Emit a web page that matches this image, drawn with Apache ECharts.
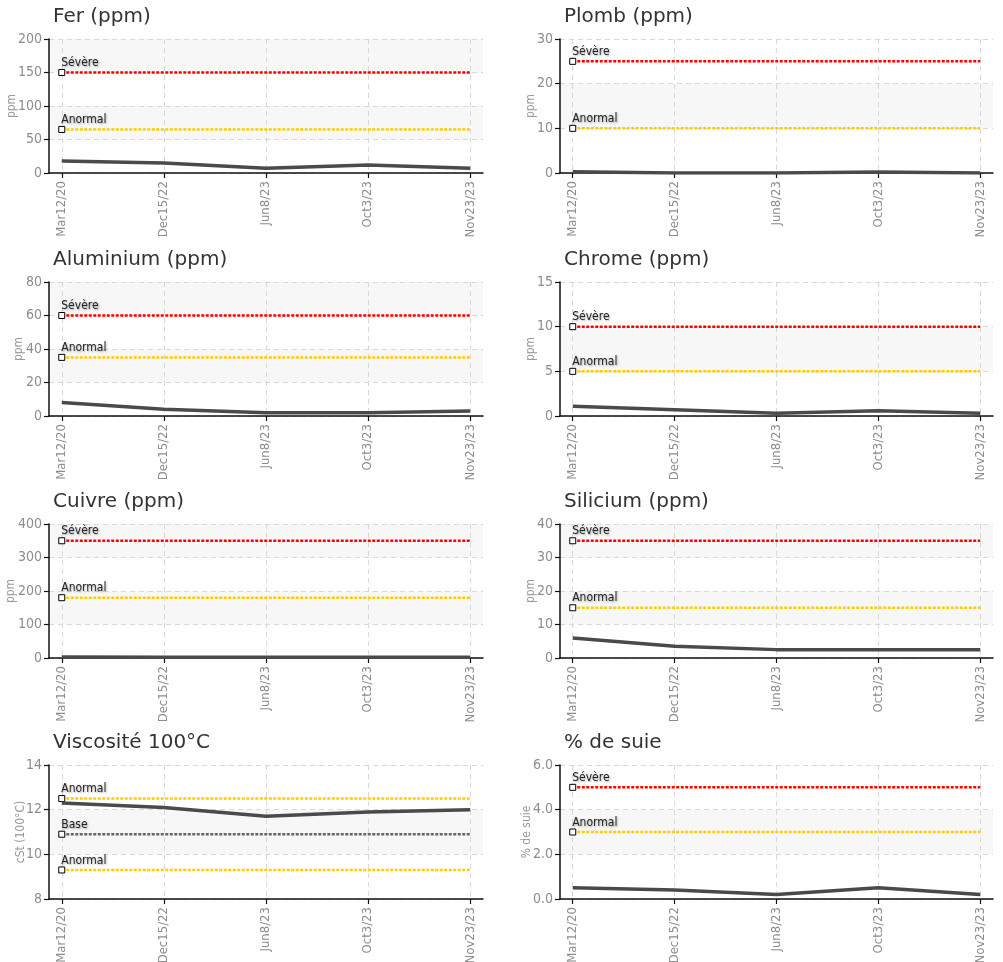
<!DOCTYPE html>
<html><head><meta charset="utf-8">
<script src="https://cdn.jsdelivr.net/npm/echarts@6/dist/echarts.min.js"></script>
<style>html,body{margin:0;padding:0;background:#fff}#c{width:1003px;height:962px}</style>
</head><body><div id="c"></div>
<script>
// ---------- DATA ----------
const categories = ['Mar12/20', 'Dec15/22', 'Jun8/23', 'Oct3/23', 'Nov23/23'];

const ferValues       = [18, 15, 7, 12, 7];
const plombValues     = [0.3, 0, 0, 0.2, 0];
const aluminiumValues = [8, 4, 2, 2, 3];
const chromeValues    = [1.1, 0.7, 0.3, 0.6, 0.3];
const cuivreValues    = [3, 2, 2, 2, 2];
const siliciumValues  = [6, 3.5, 2.5, 2.5, 2.5];
const viscositeValues = [12.3, 12.1, 11.7, 11.9, 12.0];
const suieValues      = [0.5, 0.4, 0.2, 0.5, 0.2];

const ferLimits       = [150, 65];
const plombLimits     = [25, 10];
const aluminiumLimits = [60, 35];
const chromeLimits    = [10, 5];
const cuivreLimits    = [350, 180];
const siliciumLimits  = [35, 15];
const viscositeLimits = [12.5, 10.9, 9.3];
const suieLimits      = [5, 3];

const limitNames          = ['Sévère', 'Anormal'];
const viscositeLimitNames = ['Anormal', 'Base', 'Anormal'];

// y-axis ticks: [min, max, step]
const ferTicks       = [0, 200, 50];
const plombTicks     = [0, 30, 10];
const aluminiumTicks = [0, 80, 20];
const chromeTicks    = [0, 15, 5];
const cuivreTicks    = [0, 400, 100];
const siliciumTicks  = [0, 40, 10];
const viscositeTicks = [8, 14, 2];
const suieTicks      = [0, 6, 2];

// ---------- PANELS ----------
const panels = [
  {title: 'Fer (ppm)',       yName: 'ppm', values: ferValues,       limits: ferLimits,       names: limitNames, ticks: ferTicks,       dec: 0},
  {title: 'Plomb (ppm)',     yName: 'ppm', values: plombValues,     limits: plombLimits,     names: limitNames, ticks: plombTicks,     dec: 0},
  {title: 'Aluminium (ppm)', yName: 'ppm', values: aluminiumValues, limits: aluminiumLimits, names: limitNames, ticks: aluminiumTicks, dec: 0},
  {title: 'Chrome (ppm)',    yName: 'ppm', values: chromeValues,    limits: chromeLimits,    names: limitNames, ticks: chromeTicks,    dec: 0},
  {title: 'Cuivre (ppm)',    yName: 'ppm', values: cuivreValues,    limits: cuivreLimits,    names: limitNames, ticks: cuivreTicks,    dec: 0},
  {title: 'Silicium (ppm)',  yName: 'ppm', values: siliciumValues,  limits: siliciumLimits,  names: limitNames, ticks: siliciumTicks,  dec: 0},
  {title: 'Viscosité 100°C', yName: 'cSt (100°C)', values: viscositeValues, limits: viscositeLimits, names: viscositeLimitNames, ticks: viscositeTicks, dec: 0},
  {title: '% de suie',       yName: '% de suie',   values: suieValues,      limits: suieLimits,      names: limitNames, ticks: suieTicks,      dec: 1}
];

// ---------- LAYOUT / STYLE ----------
const colLeft  = [49, 560];
const colWidth = [434, 433];
const rowTop   = [39, 282, 524, 765];
const gridH    = 134;
const nameGaps = [31, 23, 24, 23, 32, 23, 22, 27];
const limitColor = {'Sévère': '#ff0000', 'Anormal': '#ffcc00', 'Base': '#666666'};
const COND = "'DejaVu Sans Condensed', 'Liberation Sans Narrow', sans-serif";
const TITLEF = "'DejaVu Sans', Verdana, sans-serif";

const option = {animation: false, backgroundColor: '#fff', title: [], grid: [], xAxis: [], yAxis: [], series: []};

panels.forEach((p, i) => {
  const col = i % 2, row = Math.floor(i / 2);
  const left = colLeft[col], top = rowTop[row];
  option.title.push({
    text: p.title, left: left + 4, top: top - 32, padding: 0,
    textStyle: {fontFamily: TITLEF, fontSize: 20, fontWeight: 'normal', color: '#333'}
  });
  option.grid.push({left: left, top: top, width: colWidth[col], height: gridH,
    containLabel: false, outerBoundsMode: 'none'});
  const idx = categories.map((c, k) => k);
  option.xAxis.push({
    type: 'value', gridIndex: i, min: -0.125, max: categories.length - 1 + 0.125,
    axisLine: {onZero: false, lineStyle: {color: '#111', width: 1.5}},
    axisTick: {show: true, length: 5, customValues: idx, lineStyle: {color: '#111', width: 1.2}},
    axisLabel: {customValues: idx, rotate: 90, margin: 8, color: '#8c8c8c', fontSize: 13, fontFamily: COND,
      formatter: v => categories[Math.round(v)]},
    splitLine: {show: true, lineStyle: {color: '#d8d8d8', type: [5, 4], width: 1}},
    splitArea: {show: false}
  });
  option.yAxis.push({
    type: 'value', gridIndex: i, min: p.ticks[0], max: p.ticks[1], interval: p.ticks[2],
    name: p.yName, nameLocation: 'middle', nameGap: nameGaps[i], nameRotate: 90, nameMoveOverlap: false,
    nameTextStyle: {color: '#999', fontSize: 12, fontFamily: COND},
    axisLine: {show: true, onZero: false, lineStyle: {color: '#111', width: 1.5}},
    axisTick: {show: true, length: 5, lineStyle: {color: '#111', width: 1.2}},
    axisLabel: {color: '#8c8c8c', fontSize: 14, fontFamily: COND, margin: 7,
      formatter: v => v.toFixed(p.dec)},
    splitLine: {show: true, lineStyle: {color: '#d8d8d8', type: [5, 4], width: 1}},
    splitArea: {show: true, areaStyle: {color: ['rgba(255,255,255,0)', '#f7f7f7']}}
  });
  p.limits.forEach((lv, j) => {
    const nm = p.names[j];
    option.series.push({
      type: 'line', name: nm, xAxisIndex: i, yAxisIndex: i, silent: true, z: 3,
      symbol: 'none', showSymbol: true,
      data: categories.map((c, k) => k === 0
        ? {value: [k, lv], symbol: 'rect', symbolSize: 6, label: {show: true}}
        : {value: [k, lv], symbol: 'none'}),
      lineStyle: {color: limitColor[nm], width: 2.5, type: [3, 1.5]},
      itemStyle: {color: '#fff', borderColor: '#000', borderWidth: 1},
      label: {show: false, formatter: nm, position: [3, 0], align: 'left', verticalAlign: 'bottom',
        color: '#222', fontSize: 12, fontFamily: COND,
        textShadowColor: 'rgba(0,0,0,0.35)', textShadowBlur: 2, textShadowOffsetX: 1, textShadowOffsetY: 1}
    });
  });
  option.series.push({
    type: 'line', name: p.title, xAxisIndex: i, yAxisIndex: i, silent: true, z: 4,
    symbol: 'none', data: p.values.map((v, k) => [k, v]),
    lineStyle: {color: '#4a4a4a', width: 3.5}
  });
});

const chart = echarts.init(document.getElementById('c'), null, {renderer: 'canvas'});
chart.setOption(option);
</script>
</body></html>
